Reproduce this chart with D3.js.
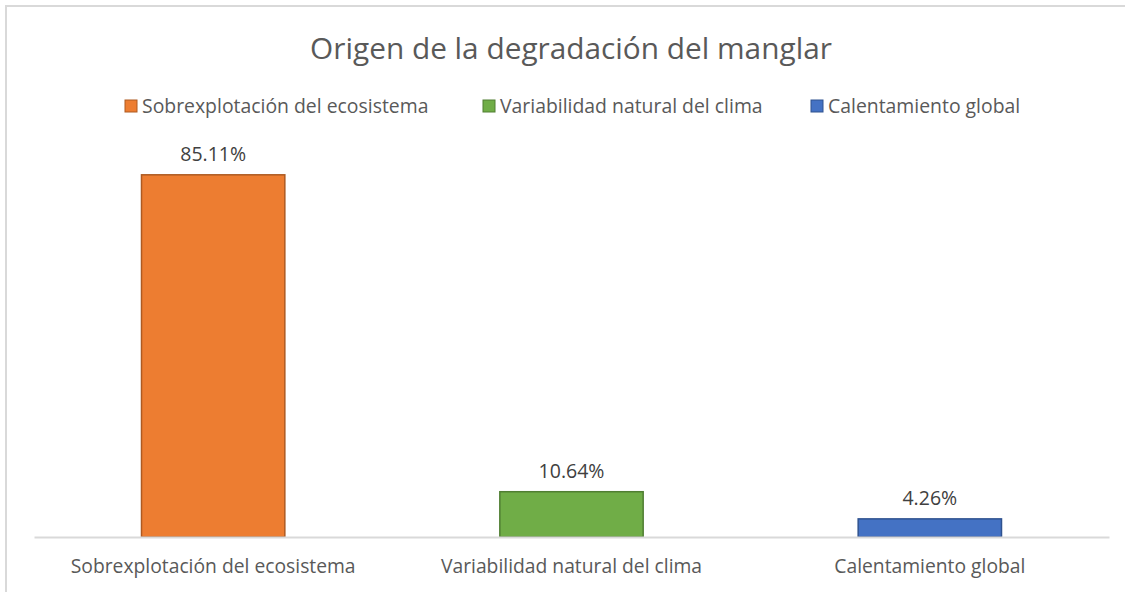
<!DOCTYPE html>
<html>
<head>
<meta charset="utf-8">
<script src="https://cdn.jsdelivr.net/npm/d3@7"></script>
<style>
  html, body { margin: 0; padding: 0; background: #fff; }
  svg { display: block; font-family: "Open Sans", "Liberation Sans", sans-serif; }
</style>
</head>
<body>
<svg id="chart" width="1125" height="592"></svg>
<script>
const title = "Origen de la degradación del manglar";
const categories = ["Sobrexplotación del ecosistema", "Variabilidad natural del clima", "Calentamiento global"];
const values = [85.11, 10.64, 4.26];
const labels = ["85.11%", "10.64%", "4.26%"];
const colors = ["#ED7D31", "#70AD47", "#4472C4"];
const strokes = ["#AE5A21", "#507E32", "#2F528F"];

const svg = d3.select("#chart");
const W = 1125, H = 592;
const FONT = "\"Open Sans\", \"Liberation Sans\", sans-serif";

// chart border
svg.append("rect").attr("x", 6).attr("y", 6).attr("width", W + 10).attr("height", H + 10)
  .attr("fill", "#fff").attr("stroke", "#d9d9d9").attr("stroke-width", 2);

const margin = { left: 34, right: 16, top: 154, bottom: 55 };
const x = d3.scaleBand().domain(categories).range([margin.left, W - margin.right]).paddingInner(0.6).paddingOuter(0.3);
const y = d3.scaleLinear().domain([0, 90]).range([H - margin.bottom, margin.top]);

// title
svg.append("text").attr("x", 571).attr("y", 59).attr("text-anchor", "middle")
  .attr("font-size", 29.8).attr("fill", "#595959").text(title);

// legend
const legendX = [125, 483, 811];
const lg = svg.append("g");
categories.forEach((c, i) => {
  lg.append("rect").attr("x", legendX[i]).attr("y", 100).attr("width", 12).attr("height", 12)
    .attr("fill", colors[i]).attr("stroke", strokes[i]).attr("stroke-width", 1);
  lg.append("text").attr("x", legendX[i] + 17).attr("y", 113).attr("font-size", 19.4)
    .attr("fill", "#595959").text(c);
});

// bars
svg.append("g").selectAll("rect").data(values).join("rect")
  .attr("x", (d, i) => x(categories[i]))
  .attr("y", d => y(d))
  .attr("width", x.bandwidth())
  .attr("height", d => y(0) - y(d))
  .attr("fill", (d, i) => colors[i])
  .attr("stroke", (d, i) => strokes[i])
  .attr("stroke-width", 1.5);

// data labels
svg.append("g").selectAll("text").data(values).join("text")
  .attr("x", (d, i) => x(categories[i]) + x.bandwidth() / 2)
  .attr("y", d => y(d) - 14)
  .attr("text-anchor", "middle").attr("font-size", 19.5).attr("fill", "#404040")
  .text((d, i) => labels[i]);

// x axis
const xAxis = svg.append("g").attr("transform", `translate(0,${y(0)})`)
  .call(d3.axisBottom(x).tickSize(0).tickPadding(22));
xAxis.select(".domain").attr("stroke", "#d9d9d9").attr("stroke-width", 2);
xAxis.selectAll("text").attr("font-size", 19.3).attr("fill", "#595959")
  .attr("font-family", FONT);
</script>
</body>
</html>
